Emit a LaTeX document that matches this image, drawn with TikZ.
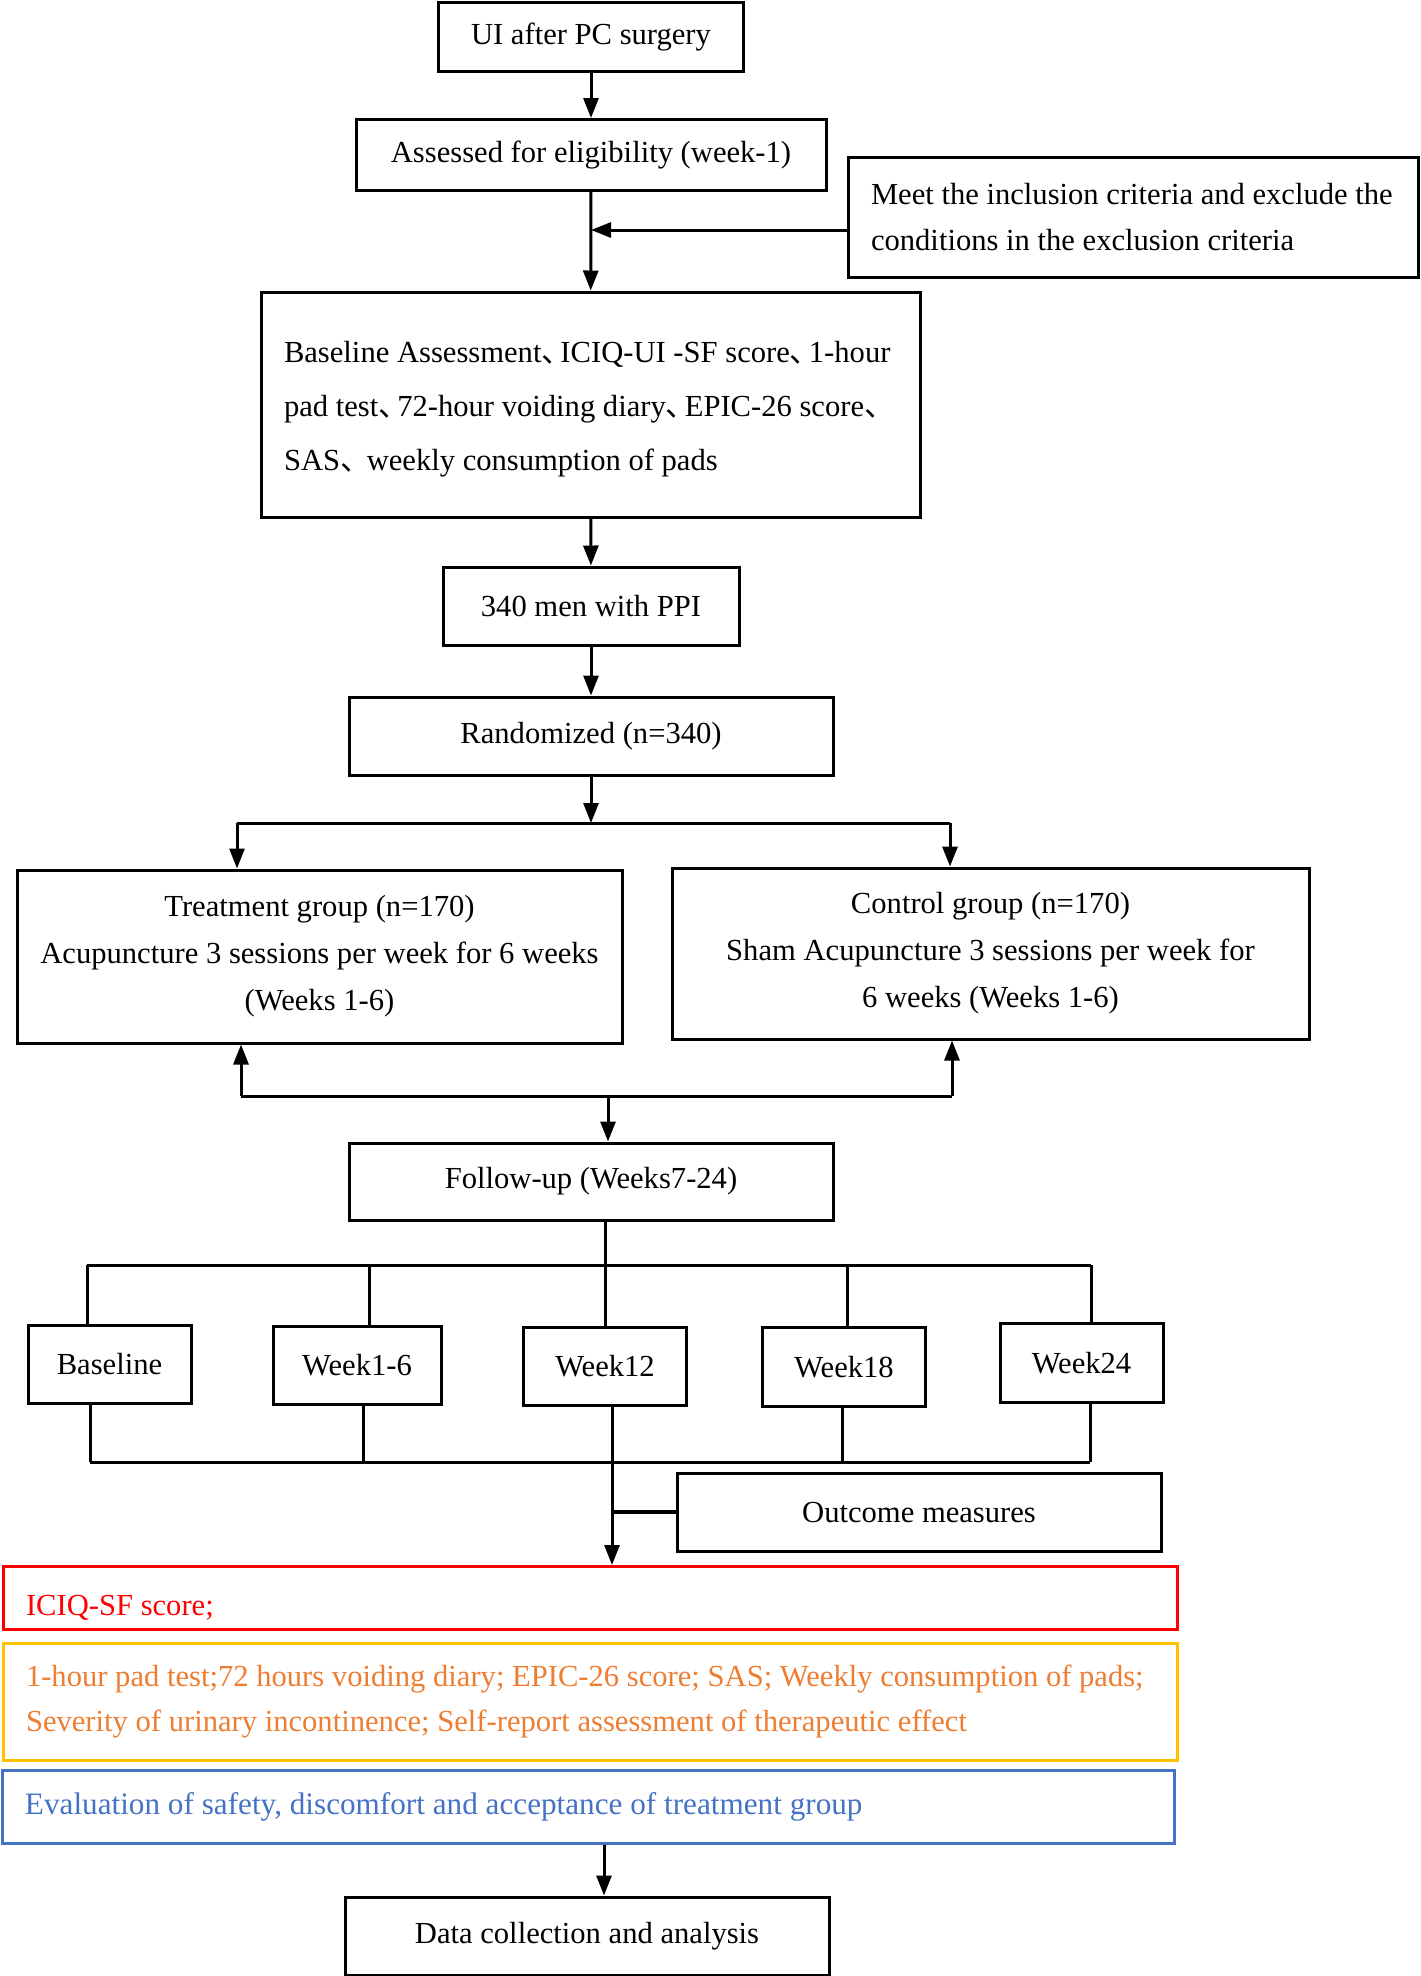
\documentclass[tikz,border=0pt]{standalone}
\usepackage{fontspec}
\setmainfont{Liberation Serif}
\newfontfamily\cjk{Noto Sans CJK SC}
\usepackage{xcolor}
\definecolor{iciqRed}{RGB}{255,0,0}
\definecolor{padGold}{RGB}{255,192,0}
\definecolor{padOrange}{RGB}{237,125,49}
\definecolor{safeBlue}{RGB}{68,114,196}
\usetikzlibrary{arrows.meta,calc}
\newcommand{\dun}{\makebox[0.62em][l]{\cjk 、}}
\tikzstyle{flowbox}=[rectangle, draw=black, line width=1.5pt, inner xsep=11.5pt, inner ysep=0pt, align=center, font=\fontsize{15.3}{23.5}\selectfont]
\tikzstyle{leftbox}=[flowbox, align=flush left]
\tikzstyle{flowline}=[line width=1.5pt, color=black]
\tikzstyle{flowarrow}=[flowline, -{Triangle[length=10pt,width=7.5pt]}]

\begin{document}
\begin{tikzpicture}[x=0.5pt, y=-0.5pt]
        \useasboundingbox (0,0) rectangle (1420,1976);

        % Screening
        \node[flowbox, minimum width=152.5pt, minimum height=34.5pt] (ui) at (591,37) {UI after PC surgery};
        \node[flowbox, minimum width=235pt, minimum height=35.5pt] (elig) at (591,155) {Assessed for eligibility (week-1)};
        \node[leftbox, text width=262pt, minimum height=60pt, font=\fontsize{15.3}{23}\selectfont] (meet) at (1133,217)
             {\mbox{Meet the inclusion criteria and exclude the}\\conditions in the exclusion criteria};
        \node[leftbox, text width=306.5pt, minimum height=112.5pt, font=\fontsize{15.3}{27}\selectfont] (base) at (590.5,404.5)
             {\raisebox{0pt}[15pt][0pt]{}\mbox{Baseline Assessment\dun ICIQ-UI -SF score\dun 1-hour}\\
              \mbox{pad test\dun 72-hour voiding diary\dun EPIC-26 score\dun}\\
              SAS\dun\ weekly consumption of pads};
        \node[flowbox, minimum width=148pt, minimum height=39pt] (men) at (591,606) {340 men with PPI};
        \node[flowbox, minimum width=242pt, minimum height=39pt] (rand) at (591,736) {Randomized (n=340)};

        % Groups
        \node[flowbox, minimum width=302.5pt, minimum height=86.5pt] (treat) at (319.5,956.5)
             {Treatment group (n=170)\\Acupuncture 3 sessions per week for 6 weeks\\(Weeks 1-6)};
        \node[flowbox, minimum width=318.5pt, minimum height=85.5pt] (ctrl) at (990.5,953.5)
             {Control group (n=170)\\Sham Acupuncture 3 sessions per week for\\6 weeks (Weeks 1-6)};
        \node[flowbox, minimum width=242pt, minimum height=38.5pt] (follow) at (591,1181.5) {Follow-up (Weeks7-24)};

        % Time points
        \node[flowbox, minimum width=81.5pt, minimum height=39pt] (wb) at (109.5,1364) {Baseline};
        \node[flowbox, minimum width=84pt, minimum height=39pt] (w16) at (357,1365) {Week1-6};
        \node[flowbox, minimum width=81.5pt, minimum height=39pt] (w12) at (605,1366) {Week12};
        \node[flowbox, minimum width=81.5pt, minimum height=39.5pt] (w18) at (844,1367) {Week18};
        \node[flowbox, minimum width=81.5pt, minimum height=39.5pt] (w24) at (1081.5,1363) {Week24};
        \node[flowbox, minimum width=242pt, minimum height=39pt] (outcome) at (919,1512) {Outcome measures};

        % Outcomes
        \node[leftbox, text width=564pt, minimum height=31.5pt, draw=iciqRed, text=iciqRed] (iciq) at (590,1598)
             {\raisebox{-3.5pt}[\height][0pt]{ICIQ-SF score;}};
        \node[leftbox, text width=564pt, minimum height=58.5pt, draw=padGold, text=padOrange, font=\fontsize{15.3}{22.5}\selectfont] (other) at (590,1701.5)
             {\mbox{1-hour pad test;72 hours voiding diary; EPIC-26 score; SAS; Weekly consumption of pads;}\\
              Severity of urinary incontinence; Self-report assessment of therapeutic effect};
        \node[leftbox, text width=563pt, minimum height=36.5pt, draw=safeBlue, text=safeBlue, font=\fontsize{15.6}{23.5}\selectfont] (safety) at (588,1806.5)
             {Evaluation of safety, discomfort and acceptance of treatment group};
        \node[flowbox, minimum width=242pt, minimum height=39pt] (data) at (587,1936) {Data collection and analysis};

        % Connectors
        \coordinate (join) at (591,230);
        \draw[flowarrow] (ui) -- (elig);
        \draw[flowarrow] (elig) -- (base);
        \draw[flowarrow] (meet.west |- join) -- (join);
        \draw[flowarrow] (base) -- (men);
        \draw[flowarrow] (men) -- (rand);

        \coordinate (split) at (591,823);
        \coordinate (splitL) at (237,823);
        \coordinate (splitR) at (950,823);
        \draw[flowarrow] (rand) -- (split);
        \draw[flowline] (splitL) -- (splitR);
        \draw[flowarrow] (splitL) -- (splitL |- treat.north);
        \draw[flowarrow] (splitR) -- (splitR |- ctrl.north);

        \coordinate (merge) at (608,1096);
        \coordinate (mergeL) at (241,1096);
        \coordinate (mergeR) at (952,1096);
        \draw[flowline] (mergeL) -- (mergeR);
        \draw[flowarrow] (mergeL) -- (mergeL |- treat.south);
        \draw[flowarrow] (mergeR) -- (mergeR |- ctrl.south);
        \draw[flowarrow] (merge) -- (merge |- follow.north);

        % Time points above
        \coordinate (topL) at (87,1265);
        \coordinate (top16) at (369,1265);
        \coordinate (top18) at (847,1265);
        \coordinate (topR) at (1091,1265);
        \draw[flowline] (topL) -- (topR);
        \draw[flowline] (w12.north |- follow.south) -- (w12.north);
        \draw[flowline] (topL) -- (topL |- wb.north);
        \draw[flowline] (top16) -- (top16 |- w16.north);
        \draw[flowline] (top18) -- (top18 |- w18.north);
        \draw[flowline] (topR) -- (topR |- w24.north);

        % Time points below
        \coordinate (botL) at (90,1462);
        \coordinate (bot16) at (363,1462);
        \coordinate (botM) at (612,1462);
        \coordinate (bot18) at (842,1462);
        \coordinate (botR) at (1090,1462);
        \draw[flowline] (botL) -- (botR);
        \draw[flowline] (botL |- wb.south) -- (botL);
        \draw[flowline] (bot16 |- w16.south) -- (bot16);
        \draw[flowline] (bot18 |- w18.south) -- (bot18);
        \draw[flowline] (botR |- w24.south) -- (botR);
        \draw[flowarrow] (botM |- w12.south) -- (botM |- iciq.north);
        \draw[flowline, line width=2pt] (outcome.west) -- (outcome.west -| botM);

        \draw[flowarrow] ([xshift=8.5pt]data.north |- safety.south) -- ([xshift=8.5pt]data.north);
\end{tikzpicture}
\end{document}
